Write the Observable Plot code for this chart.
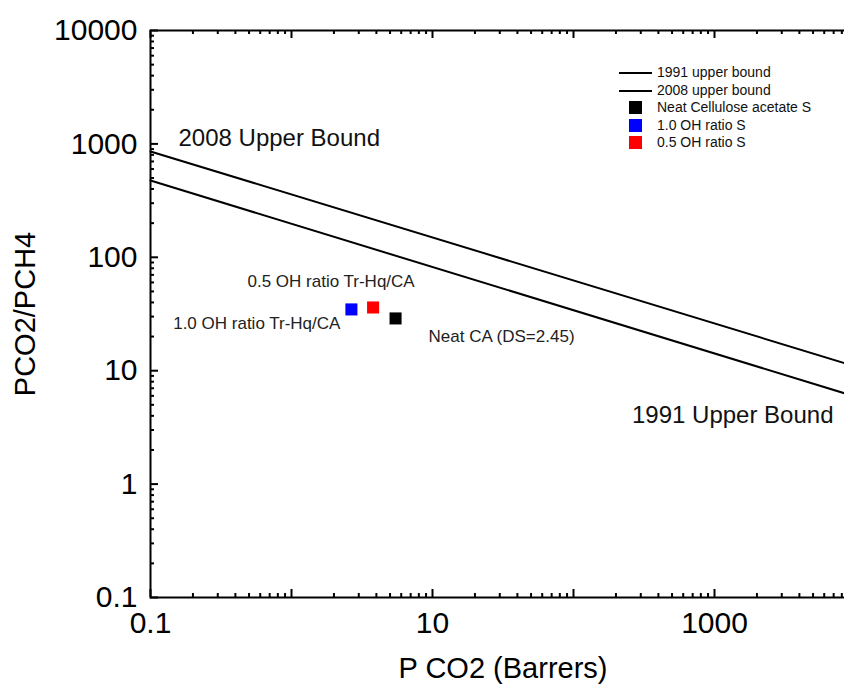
<!DOCTYPE html>
<html>
<head>
<meta charset="utf-8">
<script src="https://cdn.jsdelivr.net/npm/d3@7"></script>
<script src="https://cdn.jsdelivr.net/npm/@observablehq/plot@0.6"></script>
<style>
  html, body { margin: 0; padding: 0; background: #fff; overflow: hidden; }
  #wrap { position: relative; width: 844px; height: 685px; overflow: hidden; font-family: "Liberation Sans", Arial, sans-serif; }
  #chart svg { max-width: none !important; display: block; }
  #legend { position: absolute; left: 619px; top: 64px; font-size: 14px; color: #111; }
  .lrow { position: relative; height: 17.5px; line-height: 17.5px; padding-left: 38px; white-space: nowrap; }
  .lline { position: absolute; left: 0; top: 8px; width: 33px; height: 2px; background: #000; }
  .lsq { position: absolute; left: 10px; top: 2px; width: 13px; height: 13px; }
</style>
</head>
<body>
<div id="wrap"><div id="chart"></div><div id="legend"></div></div>
<script>
// ---- data ----
const boundLabels = ["1991 upper bound", "2008 upper bound"];
const boundAnnotations = ["1991 Upper Bound", "2008 Upper Bound"];
const boundPCO2 = [0.1, 10000];
const bound1991Selectivity = [475, 5.9];
const bound2008Selectivity = [858, 10.9];

const sampleNames = ["Neat Cellulose acetate S", "1.0 OH ratio S", "0.5 OH ratio S"];
const sampleColors = ["#000000", "#0000ff", "#ff0000"];
const samplePCO2 = [5.47, 2.66, 3.79];
const sampleSelectivity = [28.9, 34.7, 36.1];
const sampleAnnotations = ["Neat CA (DS=2.45)", "1.0 OH ratio Tr-Hq/CA", "0.5 OH ratio Tr-Hq/CA"];

const xTickLabels = [0.1, 10, 1000];
const yTickLabels = [0.1, 1, 10, 100, 1000, 10000];
const xTitle = "P CO2 (Barrers)";
const yTitle = "PCO2/PCH4";

// ---- tables built from the arrays ----
const line1991 = boundPCO2.map((x, i) => ({x, y: bound1991Selectivity[i]}));
const line2008 = boundPCO2.map((x, i) => ({x, y: bound2008Selectivity[i]}));
const samples = sampleNames.map((name, i) => ({
  name, color: sampleColors[i], x: samplePCO2[i], y: sampleSelectivity[i], note: sampleAnnotations[i]
}));

// ---- layout ----
const W = 855, H = 685;
const mL = 150, mT = 30, mB = 88, mR = 0;
const frameH = H - mT - mB, frameW = W - mL - mR;
const xDomain = [0.1, 10000], yDomain = [0.1, 10000];
const isDecade = v => Math.abs(Math.log10(v) - Math.round(Math.log10(v))) < 1e-9;
const allX = d3.scaleLog().domain(xDomain).ticks();
const allY = d3.scaleLog().domain(yDomain).ticks();
const majX = allX.filter(isDecade), minX = allX.filter(v => !isDecade(v));
const majY = allY.filter(isDecade), minY = allY.filter(v => !isDecade(v));
const MAJ = 8, MIN = 4, TW = 2;

const fmt = d => String(d);

const chart = Plot.plot({
  width: W, height: H,
  marginLeft: mL, marginRight: mR, marginTop: mT, marginBottom: mB,
  style: {fontFamily: "'Liberation Sans', Arial, sans-serif", color: "#000", background: "#fff", overflow: "visible", maxWidth: "none"},
  x: {type: "log", domain: xDomain},
  y: {type: "log", domain: yDomain},
  marks: [
    // inward ticks on all four sides
    Plot.ruleX(majX, {x: d => d, insetTop: frameH - MAJ, strokeWidth: TW}),
    Plot.ruleX(majX, {x: d => d, insetBottom: frameH - MAJ, strokeWidth: TW}),
    Plot.ruleX(minX, {x: d => d, insetTop: frameH - MIN, strokeWidth: TW}),
    Plot.ruleX(minX, {x: d => d, insetBottom: frameH - MIN, strokeWidth: TW}),
    Plot.ruleY(majY, {y: d => d, insetRight: frameW - MAJ, strokeWidth: TW}),
    Plot.ruleY(majY, {y: d => d, insetLeft: frameW - MAJ, strokeWidth: TW}),
    Plot.ruleY(minY, {y: d => d, insetRight: frameW - MIN, strokeWidth: TW}),
    Plot.ruleY(minY, {y: d => d, insetLeft: frameW - MIN, strokeWidth: TW}),
    Plot.frame({stroke: "#000", strokeWidth: 2}),
    Plot.axisX({ticks: xTickLabels, tickSize: 0, tickPadding: 14, tickFormat: fmt, fontSize: 30, label: null}),
    Plot.axisY({ticks: yTickLabels, tickSize: 0, tickPadding: 13, tickFormat: fmt, fontSize: 30, label: null}),
    Plot.text([xTitle], {frameAnchor: "bottom", dy: 71, text: d => d, fontSize: 29, textAnchor: "middle", lineAnchor: "middle"}),
    Plot.text([yTitle], {frameAnchor: "left", dx: -125, rotate: -90, text: d => d, fontSize: 29, textAnchor: "middle", lineAnchor: "middle"}),
    // upper bounds
    Plot.line(line1991, {x: "x", y: "y", stroke: "#000", strokeWidth: 2}),
    Plot.line(line2008, {x: "x", y: "y", stroke: "#000", strokeWidth: 2}),
    Plot.text([boundAnnotations[1]], {frameAnchor: "top-left", dx: 28, dy: 108, text: d => d, fontSize: 24, textAnchor: "start", lineAnchor: "middle", fill: "#111"}),
    Plot.text([boundAnnotations[0]], {frameAnchor: "right", dx: -22, dy: 101, text: d => d, fontSize: 24, textAnchor: "end", lineAnchor: "middle", fill: "#111"}),
    // samples
    Plot.dot(samples, {x: "x", y: "y", symbol: "square", r: 6.8, fill: "color", stroke: "none"}),
    Plot.text([samples[0]], {x: "x", y: "y", text: "note", fontSize: 17, textAnchor: "start", lineAnchor: "middle", dx: 33, dy: 18, fill: "#222"}),
    Plot.text([samples[1]], {x: "x", y: "y", text: "note", fontSize: 17, textAnchor: "end", lineAnchor: "middle", dx: -11, dy: 14, fill: "#222"}),
    Plot.text([samples[2]], {x: "x", y: "y", text: "note", fontSize: 17, textAnchor: "middle", lineAnchor: "middle", dx: -42, dy: -26, fill: "#222"})
  ]
});
document.getElementById("chart").appendChild(chart);

// legend (HTML overlay)
const legend = document.getElementById("legend");
boundLabels.forEach(label => {
  const row = document.createElement("div"); row.className = "lrow";
  const sw = document.createElement("span"); sw.className = "lline"; row.appendChild(sw);
  row.appendChild(document.createTextNode(label));
  legend.appendChild(row);
});
samples.forEach(s => {
  const row = document.createElement("div"); row.className = "lrow";
  const sw = document.createElement("span"); sw.className = "lsq"; sw.style.background = s.color; row.appendChild(sw);
  row.appendChild(document.createTextNode(s.name));
  legend.appendChild(row);
});
</script>
</body>
</html>
